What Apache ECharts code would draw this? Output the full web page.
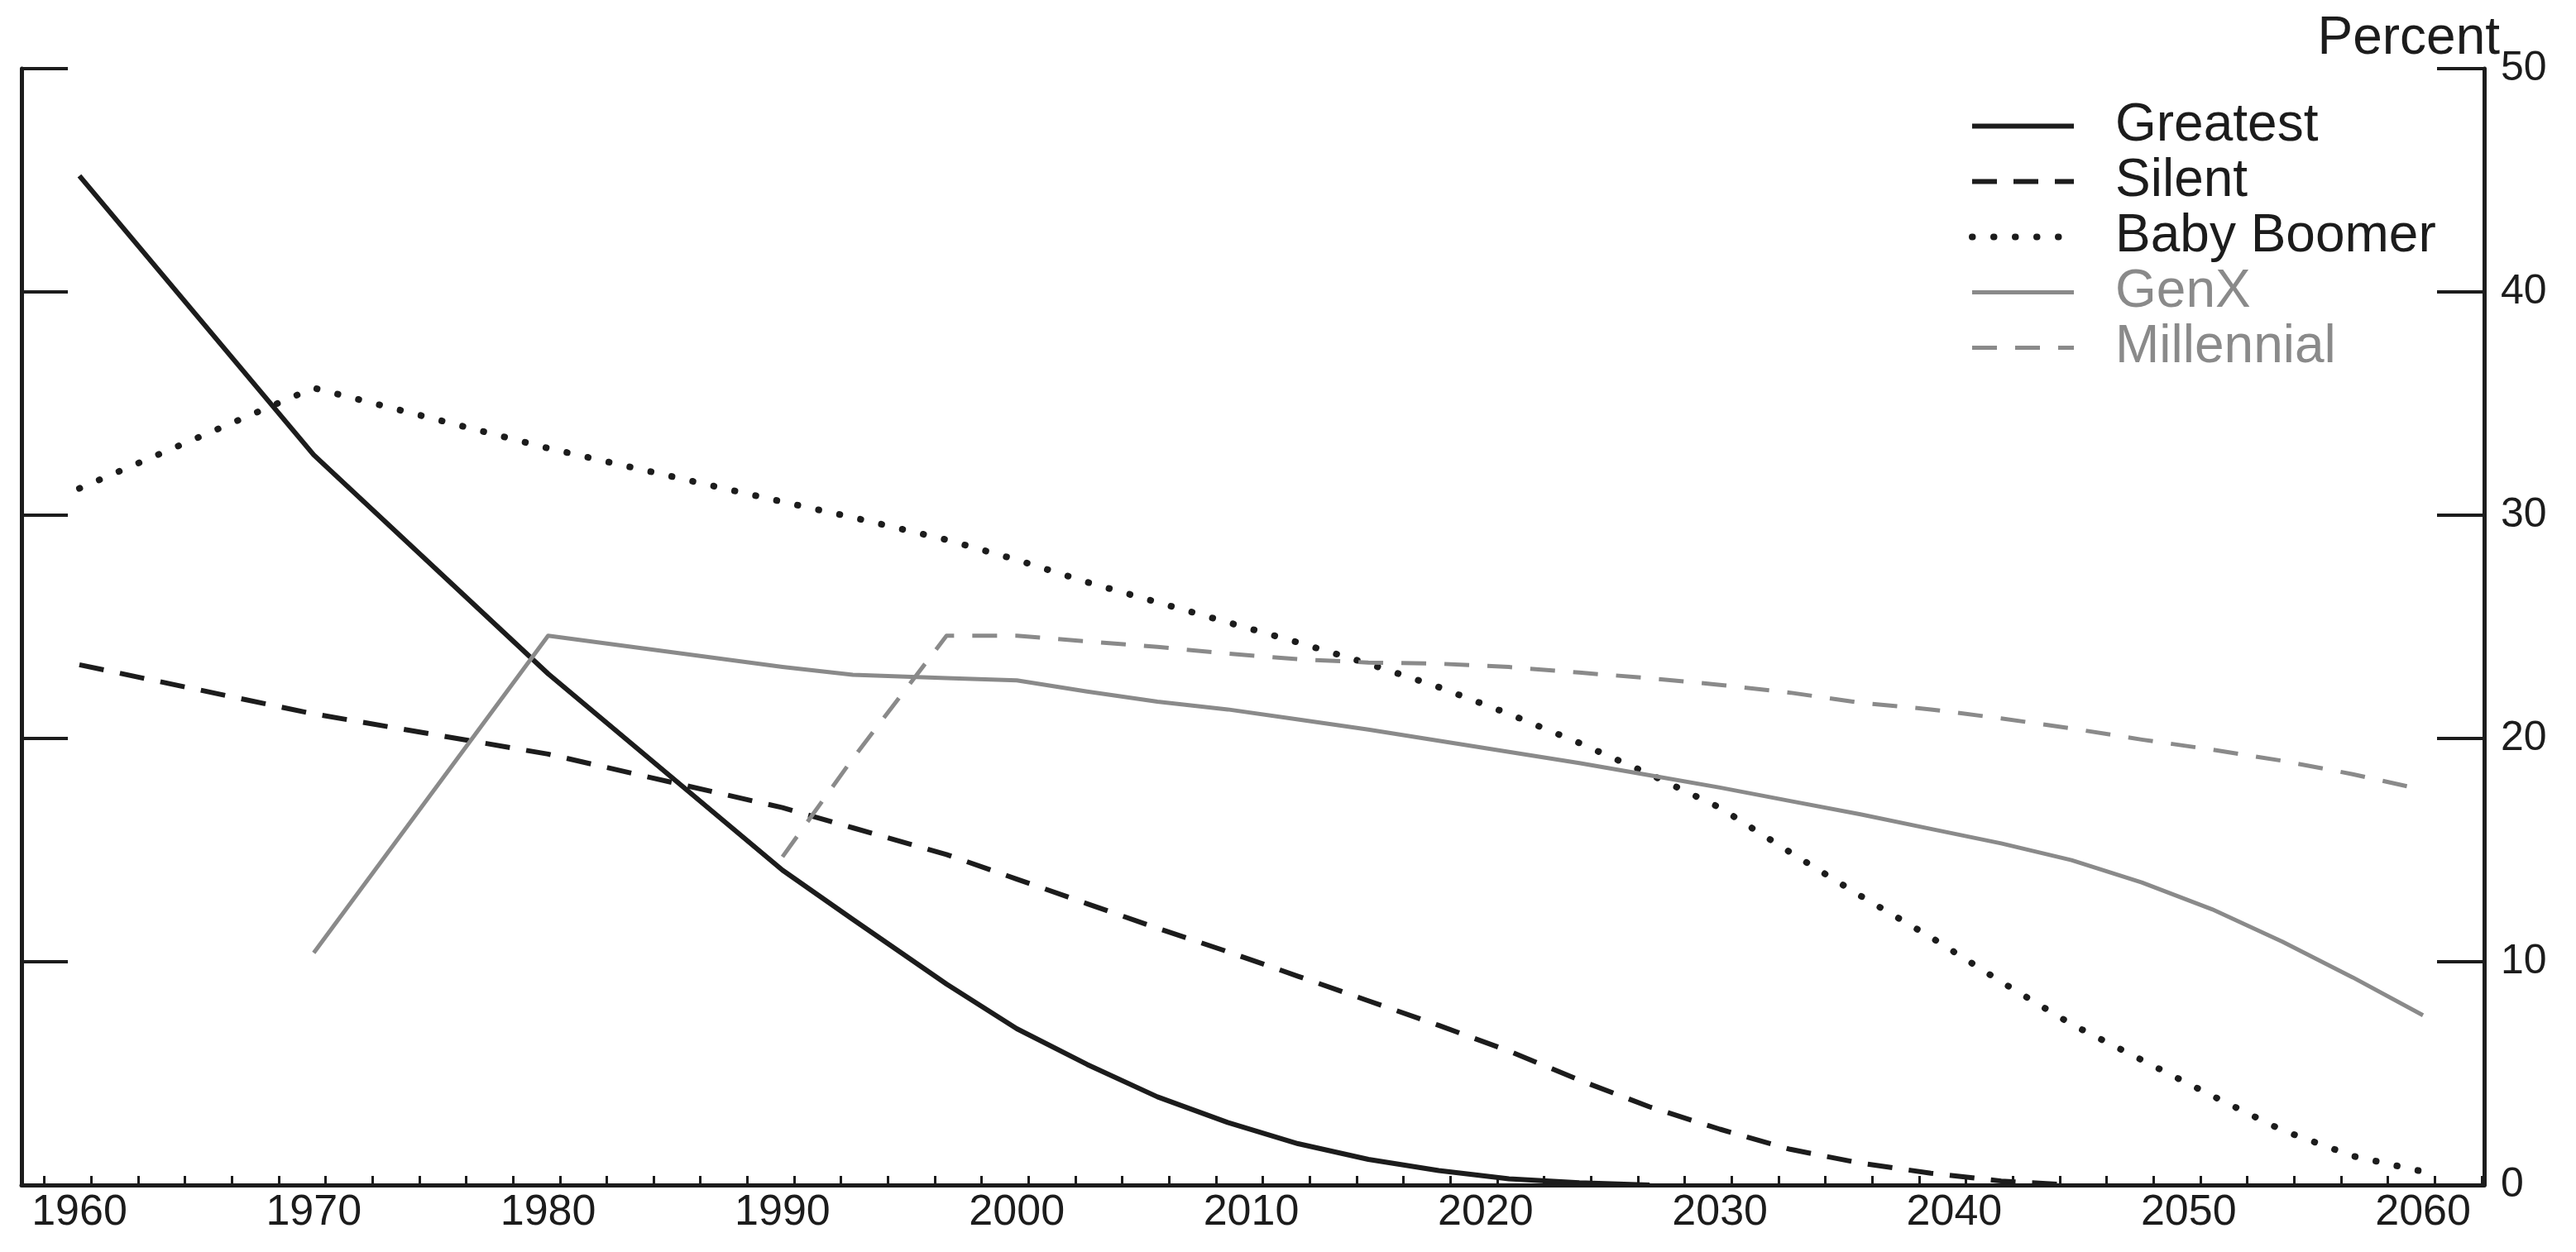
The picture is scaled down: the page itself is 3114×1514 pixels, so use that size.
<!DOCTYPE html>
<html>
<head>
<meta charset="utf-8">
<title>Generations</title>
<script src="https://cdn.jsdelivr.net/npm/echarts@6.0.0/dist/echarts.min.js"></script>
<style>
  html, body { margin: 0; padding: 0; background: #fff; }
  #chart { width: 3114px; height: 1514px; }
</style>
</head>
<body>
<div id="chart"></div>
<script>
// values, percent
const years = [1960, 1970, 1980, 1990, 1993, 1997, 2000, 2003, 2006, 2009, 2012, 2015, 2018, 2021, 2024, 2027, 2030, 2033, 2036, 2039, 2042, 2045, 2048, 2051, 2054, 2057, 2060];
const greatest = [45.2, 32.7, 22.9, 14.1, 11.9, 9.0, 7.0, 5.4, 3.95, 2.8, 1.85, 1.15, 0.65, 0.28, 0.1, 0, null, null, null, null, null, null, null, null, null, null, null];
const silent = [23.3, 21.1, 19.3, 16.9, 16.0, 14.8, 13.7, 12.6, 11.5, 10.45, 9.35, 8.25, 7.15, 6.0, 4.7, 3.5, 2.5, 1.6, 0.98, 0.53, 0.18, 0, null, null, null, null, null];
const babyBoomer = [31.2, 35.7, 33.0, 30.6, 29.9, 28.9, 28.0, 27.0, 26.1, 25.2, 24.3, 23.35, 22.3, 21.1, 19.8, 18.4, 16.9, 14.9, 12.95, 11.1, 9.1, 7.2, 5.6, 4.0, 2.45, 1.3, 0.6];
const genX = [null, 10.4, 24.6, 23.2, 22.85, 22.7, 22.6, 22.1, 21.65, 21.3, 20.85, 20.4, 19.9, 19.4, 18.9, 18.35, 17.8, 17.2, 16.6, 15.95, 15.3, 14.55, 13.55, 12.35, 10.9, 9.3, 7.6];
const millennial = [null, null, null, 14.7, 19.1, 24.6, 24.6, 24.35, 24.1, 23.8, 23.55, 23.4, 23.35, 23.2, 22.95, 22.7, 22.4, 22.05, 21.6, 21.3, 20.9, 20.45, 19.95, 19.5, 19.0, 18.4, 17.7];

const xLabels = [1960, 1970, 1980, 1990, 2000, 2010, 2020, 2030, 2040, 2050, 2060];
const yTicks = [0, 10, 20, 30, 40, 50];

const FONT = "'Liberation Sans', Arial, sans-serif";
const INK = "#1c1c1c";
const GRAY = "#8a8a8a";

// x extent of the plot frame, in years
const X_MIN = 1957.53;
const X_MAX = 2062.61;

const lines = [
  { name: "Greatest", values: greatest, color: INK, text: INK, width: 6, type: "solid", cap: "butt" },
  { name: "Silent", values: silent, color: INK, text: INK, width: 6, type: [30, 20], cap: "butt" },
  { name: "Baby Boomer", values: babyBoomer, color: INK, text: INK, width: 8, type: [0.5, 25.5], cap: "round" },
  { name: "GenX", values: genX, color: GRAY, text: GRAY, width: 5, type: "solid", cap: "butt" },
  { name: "Millennial", values: millennial, color: GRAY, text: GRAY, width: 5, type: [30, 22], cap: "butt" },
];

function toPairs(values) {
  return years.map((y, i) => [y, values[i]]);
}

function getOpts() {
  const gridBox = { left: 26, right: 111, top: 83, bottom: 81, containLabel: false, outerBoundsMode: "none" };
  return {
    animation: false,
    backgroundColor: "#fff",
    textStyle: { fontFamily: FONT },
    grid: [gridBox, Object.assign({}, gridBox)],
    legend: {
      orient: "vertical",
      left: 2375,
      top: 114,
      itemWidth: 123,
      itemHeight: 20,
      itemGap: 0,
      selectedMode: false,
      textStyle: { fontFamily: FONT, fontSize: 64, lineHeight: 67, padding: [0, 0, 0, 45] },
      data: lines.map((l) => ({
        name: l.name,
        textStyle: { color: l.text },
        itemStyle: { color: "rgba(0,0,0,0)", borderWidth: 0, opacity: 0 },
        lineStyle: { color: l.color, width: l.width, type: l.type, cap: l.cap },
      })),
    },
    graphic: [
      {
        type: "text",
        right: 92,
        top: 15,
        style: { text: "Percent", font: "64px " + FONT, fill: INK },
      },
    ],
    xAxis: [
      {
        type: "value",
        gridIndex: 0,
        position: "bottom",
        min: X_MIN,
        max: X_MAX,
        splitNumber: 10,
        minInterval: 10,
        maxInterval: 10,
        axisLine: { show: true, onZero: false, lineStyle: { color: INK, width: 5 } },
        axisTick: { show: false },
        splitLine: { show: false },
        axisLabel: {
          margin: 8,
          color: INK,
          fontFamily: FONT,
          fontSize: 52,
          formatter: (v) => (xLabels.indexOf(Math.round(v)) >= 0 && Math.abs(v - Math.round(v)) < 1e-6 ? String(Math.round(v)) : ""),
        },
      },
      {
        // small ticks every two years, half a year off the labels
        type: "value",
        gridIndex: 1,
        position: "bottom",
        min: X_MIN - 0.5,
        max: X_MAX - 0.5,
        splitNumber: 52,
        minInterval: 2,
        maxInterval: 2,
        axisLine: { show: false },
        axisTick: { show: true, inside: true, length: 11, lineStyle: { color: INK, width: 3 } },
        axisLabel: { show: false },
        splitLine: { show: false },
      },
    ],
    yAxis: [
      {
        type: "value",
        gridIndex: 0,
        position: "right",
        min: yTicks[0],
        max: yTicks[yTicks.length - 1],
        interval: yTicks[1] - yTicks[0],
        axisLine: { show: true, onZero: false, lineStyle: { color: INK, width: 5 } },
        axisTick: { show: true, inside: true, length: 57, lineStyle: { color: INK, width: 4 } },
        splitLine: { show: false },
        axisLabel: { margin: 20, color: INK, fontFamily: FONT, fontSize: 50 },
      },
      {
        type: "value",
        gridIndex: 0,
        position: "left",
        min: yTicks[0],
        max: yTicks[yTicks.length - 1],
        interval: yTicks[1] - yTicks[0],
        axisLine: { show: true, onZero: false, lineStyle: { color: INK, width: 5 } },
        axisTick: { show: true, inside: true, length: 56, lineStyle: { color: INK, width: 4 } },
        splitLine: { show: false },
        axisLabel: { show: false },
      },
      {
        type: "value",
        gridIndex: 1,
        show: false,
        min: 0,
        max: 50,
      },
    ],
    series: lines.map((l) => ({
      name: l.name,
      type: "line",
      xAxisIndex: 0,
      yAxisIndex: 0,
      symbol: "none",
      showSymbol: false,
      connectNulls: false,
      color: l.color,
      lineStyle: { color: l.color, width: l.width, type: l.type, cap: l.cap, join: "round" },
      emphasis: { disabled: true },
      data: toPairs(l.values),
    })),
  };
}

const chart = echarts.init(document.getElementById("chart"));
chart.setOption(getOpts());
window.addEventListener("resize", () => chart.resize());
</script>
</body>
</html>
